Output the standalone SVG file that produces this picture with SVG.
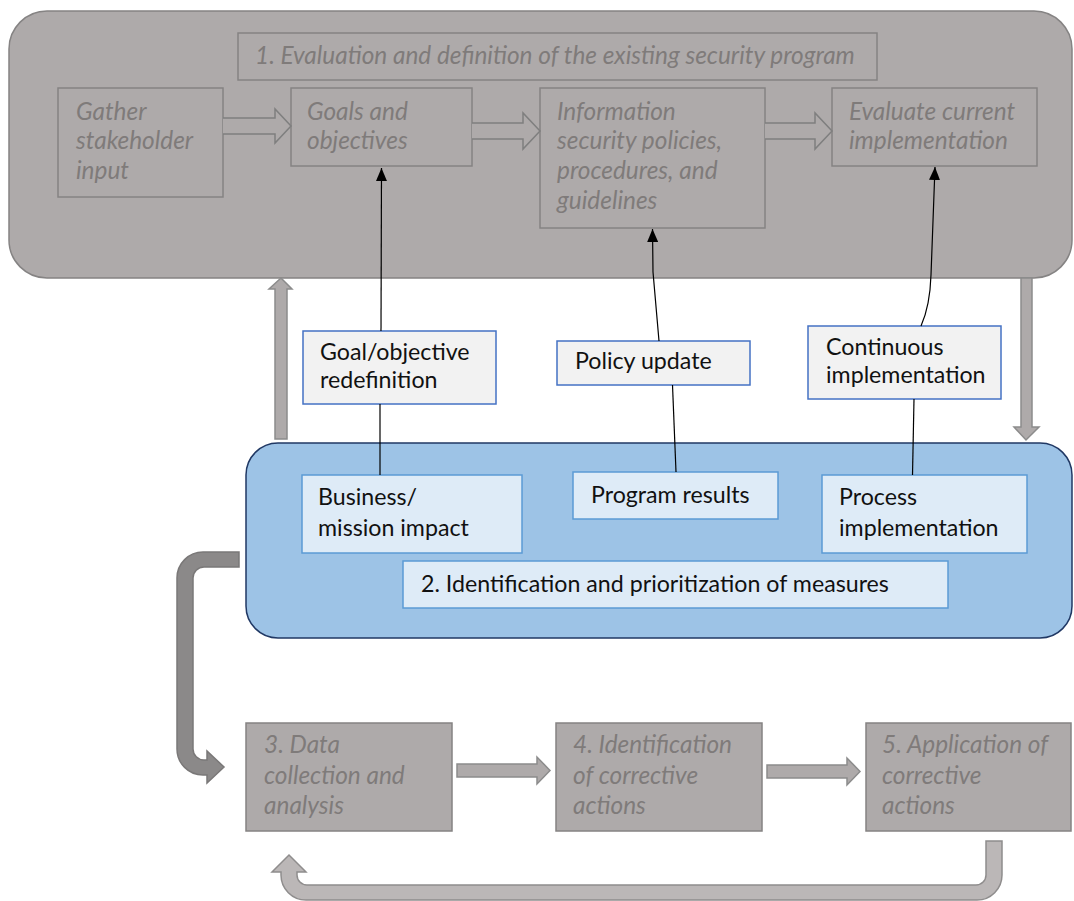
<svg xmlns="http://www.w3.org/2000/svg" width="1074" height="901" viewBox="0 0 1074 901">
<defs>
<style>
.gbox{fill:#aeaaaa;stroke:#858383;stroke-width:1.5}
.gt{font-family:Lato,"Liberation Sans",sans-serif;font-style:italic;font-size:24.4px;fill:#7f7b7a}
.lbox{fill:#f2f2f2;stroke:#4472c4;stroke-width:1.5}
.bbox{fill:#deebf7;stroke:#5b9bd5;stroke-width:1.5}
.bt{font-family:Lato,"Liberation Sans",sans-serif;font-size:23.2px;fill:#111111}
.hollow{fill:#aeaaaa;stroke:#7f7f7f;stroke-width:1.5}
.garrow{fill:#aeaaaa;stroke:#8c8c8c;stroke-width:1.5}
.conn{fill:none;stroke:#000;stroke-width:1.2}
</style>
<marker id="ah" viewBox="0 0 13 11" refX="13" refY="5.5" markerWidth="13" markerHeight="11" markerUnits="userSpaceOnUse" orient="auto">
<path d="M0,0 L13,5.5 L0,11 z" fill="#000"/>
</marker>
</defs>

<g id="phase1">
<rect x="9" y="11" width="1063" height="267" rx="38" ry="38" fill="#aeaaaa" stroke="#858383" stroke-width="1.5"/>
</g>
<g id="title1">
<rect class="gbox" x="238" y="33" width="639" height="47"/>
<text class="gt" x="255" y="64">1. Evaluation and definition of the existing security program</text>
</g>
<g id="gather">
<rect class="gbox" x="58" y="88" width="165" height="109"/>
<text class="gt" x="76" y="120">Gather</text>
<text class="gt" x="76" y="149">stakeholder</text>
<text class="gt" x="76" y="179">input</text>
</g>
<g id="goals">
<rect class="gbox" x="291" y="88" width="181" height="78"/>
<text class="gt" x="307" y="120">Goals and</text>
<text class="gt" x="307" y="149">objectives</text>
</g>
<g id="policies">
<rect class="gbox" x="540" y="88" width="225" height="140"/>
<text class="gt" x="557" y="120">Information</text>
<text class="gt" x="557" y="149">security policies,</text>
<text class="gt" x="557" y="179">procedures, and</text>
<text class="gt" x="557" y="209">guidelines</text>
</g>
<g id="evaluate">
<rect class="gbox" x="832" y="88" width="205" height="78"/>
<text class="gt" x="849" y="120">Evaluate current</text>
<text class="gt" x="849" y="149">implementation</text>
</g>

<g id="phase2">
<rect x="246" y="443" width="826" height="195" rx="32" ry="32" fill="#9dc3e6" stroke="#203864" stroke-width="1.5"/>
</g>
<g id="business">
<rect class="bbox" x="302" y="475" width="220" height="78"/>
<text class="bt" x="318" y="505">Business/</text>
<text class="bt" x="318" y="536">mission impact</text>
</g>
<g id="results">
<rect class="bbox" x="573" y="472" width="205" height="47"/>
<text class="bt" x="591" y="503">Program results</text>
</g>
<g id="process">
<rect class="bbox" x="822" y="475" width="205" height="78"/>
<text class="bt" x="839" y="505">Process</text>
<text class="bt" x="839" y="536">implementation</text>
</g>
<g id="title2">
<rect class="bbox" x="403" y="561" width="545" height="47"/>
<text class="bt" x="421" y="592">2. Identification and prioritization of measures</text>
</g>

<g id="goalredef">
<rect class="lbox" x="303" y="331" width="193" height="73"/>
<text class="bt" x="320" y="360">Goal/objective</text>
<text class="bt" x="320" y="388">redefinition</text>
</g>
<g id="policyupdate">
<rect class="lbox" x="557" y="341" width="193" height="44"/>
<text class="bt" x="575" y="369">Policy update</text>
</g>
<g id="continuous">
<rect class="lbox" x="808" y="326" width="193" height="73"/>
<text class="bt" x="826" y="355">Continuous</text>
<text class="bt" x="826" y="383">implementation</text>
</g>

<g id="step3">
<rect class="gbox" x="246" y="723" width="206" height="108"/>
<text class="gt" x="264" y="753">3. Data</text>
<text class="gt" x="264" y="784">collection and</text>
<text class="gt" x="264" y="814">analysis</text>
</g>
<g id="step4">
<rect class="gbox" x="556" y="723" width="206" height="108"/>
<text class="gt" x="573" y="753">4. Identification</text>
<text class="gt" x="573" y="784">of corrective</text>
<text class="gt" x="573" y="814">actions</text>
</g>
<g id="step5">
<rect class="gbox" x="866" y="723" width="205" height="108"/>
<text class="gt" x="882" y="753">5. Application of</text>
<text class="gt" x="882" y="784">corrective</text>
<text class="gt" x="882" y="814">actions</text>
</g>

<g id="connectors">
<path class="hollow" d="M223,118 H275 V109 L291,126 L275,143 V134 H223"/>
<path class="hollow" d="M472,123 H523 V113 L540,131 L523,149 V139 H472"/>
<path class="hollow" d="M765,123 H815 V113 L832,131 L815,149 V139 H765"/>

<path class="conn" d="M381,331 L381.5,168" marker-end="url(#ah)"/>
<path class="conn" d="M380,404 L380,475"/>
<path class="conn" d="M659,341 L653,272 L652.5,229" marker-end="url(#ah)"/>
<path class="conn" d="M672.5,385 L676,472"/>
<path class="conn" d="M921,326 Q930,306 931,275 L935,167" marker-end="url(#ah)"/>
<path class="conn" d="M914,399 L912.5,475"/>

<path class="garrow" d="M275,439 V289 H269 L281,278 L292,289 H287 V439 Z"/>
<path class="garrow" d="M1021,278 V427 H1014 L1026,440 L1039,427 H1032 V278 Z"/>

<path d="M239,552 H203 A26,26 0 0 0 177,578 V749 A26,26 0 0 0 203,775 H207 V783 L224,767 L207,751 V760 H204 A11,11 0 0 1 193,749 V578 A11,11 0 0 1 204,567 H239 Z" fill="#8b8989" stroke="#7a7878" stroke-width="1.5"/>

<path class="garrow" d="M457,764 H537 V757 L550,770.5 L537,784 V777 H457 Z"/>
<path class="garrow" d="M767,765 H847 V758 L860,771.5 L847,785 V778 H767 Z"/>

<path d="M986,841 H1002 V875 A25,25 0 0 1 977,900 H306 A25,25 0 0 1 281,875 V872 H272 L289,855 L306,872 H297 V875 A10,10 0 0 0 307,885 H976 A10,10 0 0 0 986,875 Z" fill="#bbb7b7" stroke="#8f8d8d" stroke-width="1.5"/>
</g>
</svg>
